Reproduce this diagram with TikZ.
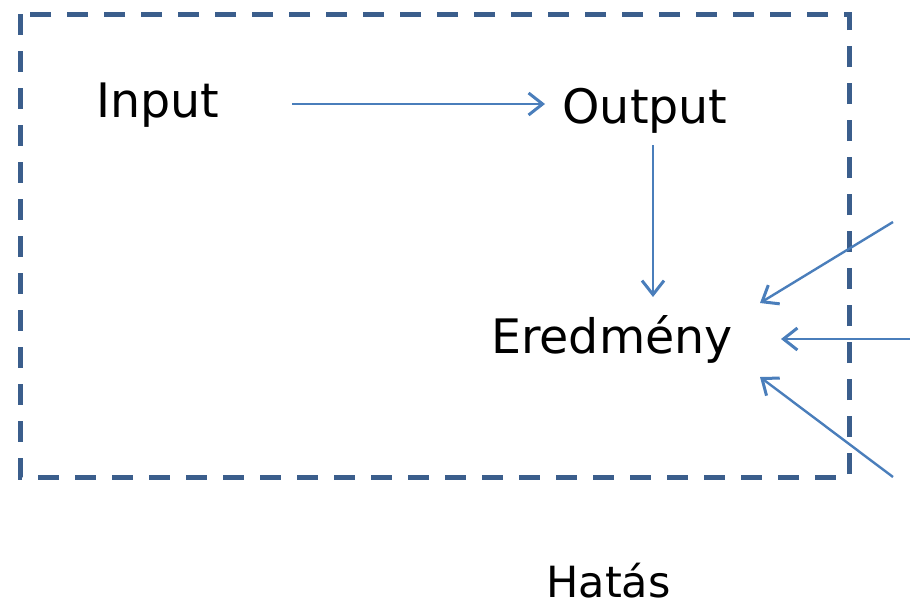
\documentclass[tikz,border=0pt]{standalone}
\usepackage{fontspec}
\setmainfont{DejaVu Sans}
\usetikzlibrary{arrows.meta}
\definecolor{boxblue}{HTML}{3B5E8C}
\definecolor{arrblue}{HTML}{4A7EBB}
\tikzset{
  lbl/.style={font=\fontsize{47.5}{52}\selectfont, text=black, anchor=base, inner sep=0pt},
  small lbl/.style={lbl, font=\fontsize{43}{48}\selectfont, text depth=0pt},
  conn/.style={draw=arrblue, line width=2.4pt, -{Straight Barb[length=14pt,width=22pt,line width=3pt]}},
  frame/.style={draw=boxblue, line width=5pt, dash pattern=on 21pt off 16pt}
}
\begin{document}
\begin{tikzpicture}[x=1pt,y=-1pt]
\useasboundingbox (0,0) rectangle (910,606);
\draw[frame] (20,14) rectangle (849,477);
\node[lbl] (input) at (157.5,117) {Input};
\node[lbl] (output) at (645,123) {Output};
\node[lbl] (ered) at (612,353) {Eredmény};
\node[small lbl] (hatas) at (608.5,597) {Hatás};
\coordinate (a1s) at (292,104);
\coordinate (a1e) at (545,104);
\coordinate (a2s) at (653,145);
\coordinate (a2e) at (653,297);
\coordinate (r1s) at (893,222);
\coordinate (r1e) at (760,303);
\coordinate (r2s) at (910,339);
\coordinate (r2e) at (781,339);
\coordinate (r3s) at (893,477);
\coordinate (r3e) at (760,377);
\draw[conn] (a1s) -- (a1e);
\draw[conn] (a2s) -- (a2e);
\draw[conn] (r1s) -- (r1e);
\draw[conn] (r2s) -- (r2e);
\draw[conn] (r3s) -- (r3e);
\end{tikzpicture}
\end{document}
